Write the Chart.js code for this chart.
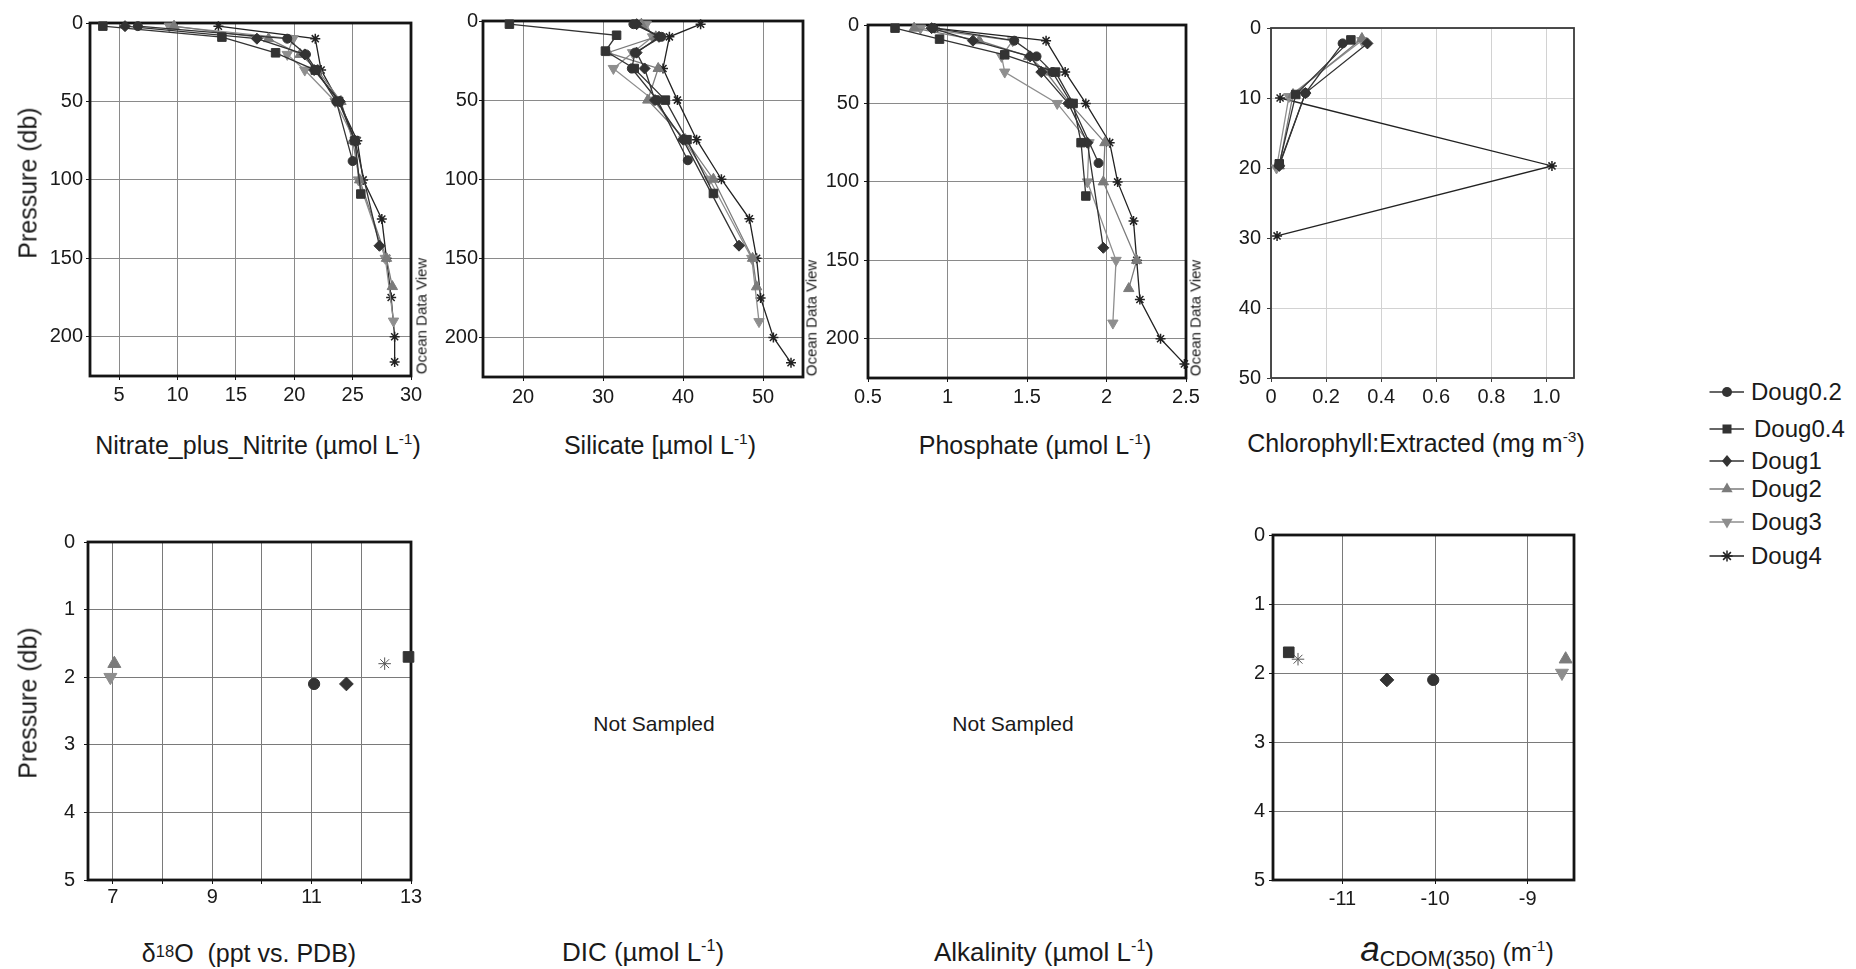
<!DOCTYPE html>
<html>
<head>
<meta charset="utf-8">
<script src="https://cdn.jsdelivr.net/npm/chart.js@4.4.0/dist/chart.umd.min.js"></script>
<style>
html,body{margin:0;padding:0;background:#fff;}
body{width:1856px;height:969px;position:relative;overflow:hidden;font-family:"Liberation Sans",Arial,Helvetica,sans-serif;color:#1a1a1a;}
canvas{position:absolute;}
.lbl{position:absolute;white-space:nowrap;line-height:1;transform:translate(-50%,-50%);}
.rot{transform:translate(-50%,-50%) rotate(-90deg);}
.lbl sup{font-size:0.62em;vertical-align:0.6em;line-height:0;}
.lbl sub{font-size:0.84em;vertical-align:-0.25em;line-height:0;}
.narrow{font-family:"Liberation Sans Narrow","Arial Narrow","Liberation Sans",Arial,sans-serif;}
.leg{position:absolute;height:24px;line-height:24px;font-size:24px;white-space:nowrap;}
.leg svg{position:absolute;left:0;top:2px;}
.leg span{position:absolute;left:44px;top:0;}
</style>
</head>
<body>
<script>
// ---------------- DATA ----------------
const stations = ['Doug0.2', 'Doug0.4', 'Doug1', 'Doug2', 'Doug3', 'Doug4'];

// bottle depths of each profile (db)
const depthDoug02 = [2, 10, 20, 30, 50, 88];
const depthDoug04 = [2, 9, 19, 30, 50, 75, 109];
const depthDoug1  = [2, 10, 20, 30, 50, 75, 142];
const depthDoug2  = [2, 10, 20, 30, 50, 75, 100, 150, 168];
const depthDoug3  = [2, 10, 20, 30, 50, 75, 100, 150, 190];
const depthDoug4  = [2, 10, 30, 50, 75, 100, 125, 150, 175, 200, 216];

// Nitrate_plus_Nitrite (umol/L)
const nitrateDoug02 = [6.6, 19.4, 21.0, 21.9, 23.6, 25.0];
const nitrateDoug04 = [3.6, 13.8, 18.4, 21.8, 23.8, 25.2, 25.7];
const nitrateDoug1  = [5.5, 16.8, 20.9, 21.7, 23.9, 25.2, 27.3];
const nitrateDoug2  = [9.7, 17.8, 20.5, 22.0, 24.0, 25.0, 25.6, 27.9, 28.4];
const nitrateDoug3  = [9.3, 19.9, 19.4, 20.9, 23.5, 25.2, 25.5, 27.8, 28.5];
const nitrateDoug4  = [13.5, 21.8, 22.3, 23.8, 25.4, 25.9, 27.5, 27.9, 28.3, 28.6, 28.6];

// Silicate (umol/L)
const silicateDoug02 = [33.8, 37.3, 34.0, 33.6, 36.8, 40.6];
const silicateDoug04 = [18.3, 31.7, 30.3, 33.9, 37.8, 40.5, 43.8];
const silicateDoug1  = [34.2, 37.0, 34.2, 35.2, 36.5, 40.0, 47.0];
const silicateDoug2  = [34.8, 36.6, 30.6, 36.9, 35.6, 40.3, 43.8, 48.7, 49.2];
const silicateDoug3  = [35.4, 36.2, 33.7, 31.3, 36.3, 40.1, 43.3, 48.6, 49.5];
const silicateDoug4  = [42.2, 38.3, 37.5, 39.3, 41.7, 44.8, 48.3, 49.2, 49.7, 51.3, 53.5];

// Phosphate (umol/L)
const phosphateDoug02 = [0.91, 1.42, 1.56, 1.66, 1.78, 1.95];
const phosphateDoug04 = [0.67, 0.95, 1.36, 1.68, 1.79, 1.84, 1.87];
const phosphateDoug1  = [0.90, 1.16, 1.52, 1.59, 1.76, 1.88, 1.98];
const phosphateDoug2  = [0.79, 1.20, 1.51, 1.62, 1.77, 1.99, 1.98, 2.19, 2.14];
const phosphateDoug3  = [0.83, 1.41, 1.34, 1.36, 1.69, 1.89, 1.88, 2.06, 2.04];
const phosphateDoug4  = [0.92, 1.62, 1.74, 1.87, 2.02, 2.07, 2.17, 2.19, 2.21, 2.34, 2.49];

// Chlorophyll:Extracted (mg/m3) and its sample depths
const chlDepthDoug02 = [2.2, 9.3, 19.5];
const chlDepthDoug04 = [1.7, 9.5, 19.4];
const chlDepthDoug1  = [2.2, 9.3, 19.7];
const chlDepthDoug2  = [1.5, 9.5, 19.7];
const chlDepthDoug3  = [1.8, 9.8, 20.0];
const chlDepthDoug4  = [10.0, 19.7, 29.7];
const chlDoug02 = [0.26, 0.125, 0.03];
const chlDoug04 = [0.29, 0.09, 0.03];
const chlDoug1  = [0.35, 0.125, 0.03];
const chlDoug2  = [0.33, 0.08, 0.03];
const chlDoug3  = [0.33, 0.065, 0.02];
const chlDoug4  = [0.033, 1.02, 0.022];

// surface samples (one per station, order = stations)
const surfaceDepths = [2.1, 1.7, 2.1, 1.8, 2.0, 1.8];
const d18oValues = [11.05, 12.95, 11.7, 7.03, 6.95, 12.47];
const cdomValues = [-10.02, -11.58, -10.52, -8.59, -8.63, -11.48];

// tick values / labels
const profileDepthTicks = [0, 50, 100, 150, 200];
const nitrateTicks = [5, 10, 15, 20, 25, 30];
const silicateTicks = [20, 30, 40, 50];
const phosphateTicks = [0.5, 1, 1.5, 2, 2.5];
const phosphateTickLabels = ['0.5', '1', '1.5', '2', '2.5'];
const chlTicks = [0, 0.2, 0.4, 0.6, 0.8, 1.0];
const chlTickLabels = ['0', '0.2', '0.4', '0.6', '0.8', '1.0'];
const chlDepthTicks = [0, 10, 20, 30, 40, 50];
const surfaceDepthTicks = [0, 1, 2, 3, 4, 5];
const d18oTicks = [7, 8, 9, 10, 11, 12, 13];
const d18oTickLabels = ['7', '', '9', '', '11', '', '13'];
const cdomTicks = [-11, -10, -9];
const cdomTickLabels = ['-11', '-10', '-9'];

// ---------------- STYLE ----------------
const stationStyle = [
  {color: '#333333', pointStyle: 'circle',  radius: 4.5, rotation: 0},
  {color: '#333333', pointStyle: 'rect',    radius: 6,   rotation: 0},
  {color: '#333333', pointStyle: 'rectRot', radius: 5.5, rotation: 0},
  {color: '#7b7b7b', pointStyle: 'triangle',radius: 6,   rotation: 0},
  {color: '#8e8e8e', pointStyle: 'triangle',radius: 6,   rotation: 180},
  {color: '#222222', pointStyle: 'star',    radius: 5,   rotation: 0}
];

Chart.defaults.font.family = '"Liberation Sans", Arial, Helvetica, sans-serif';
Chart.defaults.color = '#1a1a1a';

function series(depths, values) {
  return depths.map((d, i) => ({x: values[i], y: d}));
}

function makeDatasets(list, showLine, scale) {
  const k = scale || 1;
  return list.map((data, i) => {
    const st = stationStyle[i];
    const isStar = st.pointStyle === 'star';
    const col = (!showLine && isStar) ? '#555555' : st.color;
    return {
      label: stations[i],
      data: data,
      showLine: showLine,
      clip: false,
      borderColor: col,
      backgroundColor: col,
      borderWidth: 1.3,
      pointStyle: st.pointStyle,
      pointRadius: st.radius * k,
      pointRotation: st.rotation,
      pointBorderColor: col,
      pointBackgroundColor: col,
      pointBorderWidth: isStar ? (showLine ? 1.5 : 1) : 1,
      pointHoverRadius: st.radius * k
    };
  });
}

const framePlugin = {
  id: 'frame',
  beforeDatasetsDraw(chart, args, opts) {
    const a = chart.chartArea, ctx = chart.ctx;
    ctx.save();
    ctx.strokeStyle = opts.color || '#111';
    ctx.lineWidth = opts.width || 2.5;
    ctx.strokeRect(a.left, a.top, a.right - a.left, a.bottom - a.top);
    ctx.restore();
  }
};

function makePanel(p) {
  const W = p.R - p.L + p.padL + p.padR;
  const H = p.B - p.T + p.padT + p.padB;
  const c = document.createElement('canvas');
  c.width = W; c.height = H;
  c.style.left = (p.L - p.padL) + 'px';
  c.style.top = (p.T - p.padT) + 'px';
  c.style.width = W + 'px';
  c.style.height = H + 'px';
  document.body.appendChild(c);
  new Chart(c, {
    type: 'scatter',
    data: {datasets: p.datasets},
    options: {
      responsive: false,
      animation: false,
      devicePixelRatio: 1,
      events: [],
      layout: {padding: {top: p.padT, right: p.padR, left: 0, bottom: 0}},
      plugins: {
        legend: {display: false},
        tooltip: {enabled: false},
        frame: {width: p.frameWidth, color: p.frameColor}
      },
      scales: {
        x: {
          type: 'linear', position: 'bottom', min: p.xmin, max: p.xmax,
          afterBuildTicks: s => { s.ticks = p.xTicks.map(v => ({value: v})); },
          afterFit: s => { s.height = p.padB; },
          ticks: {
            autoSkip: false, maxRotation: 0, minRotation: 0, padding: p.xPad,
            font: {size: p.tickSize}, color: '#1a1a1a',
            callback: (v, i) => p.xLabels ? p.xLabels[i] : String(p.xTicks[i])
          },
          grid: {color: p.gridColor, lineWidth: 1, tickLength: 4, tickColor: p.frameColor},
          border: {display: false}
        },
        y: {
          type: 'linear', position: 'left', reverse: true, min: p.ymin, max: p.ymax,
          afterBuildTicks: s => { s.ticks = p.yTicks.map(v => ({value: v})); },
          afterFit: s => { s.width = p.padL; },
          ticks: {
            autoSkip: false, padding: p.yPad,
            font: {size: p.tickSize}, color: '#1a1a1a',
            callback: (v, i) => String(p.yTicks[i])
          },
          grid: {color: p.gridColor, lineWidth: 1, tickLength: 4, tickColor: p.frameColor},
          border: {display: false}
        }
      }
    },
    plugins: [framePlugin]
  });
}

function addLabel(html, x, y, size, cls) {
  const d = document.createElement('div');
  d.className = 'lbl' + (cls ? ' ' + cls : '');
  d.style.left = x + 'px';
  d.style.top = y + 'px';
  d.style.fontSize = size + 'px';
  d.innerHTML = html;
  document.body.appendChild(d);
}

// ---------------- PANELS ----------------
makePanel({
  L: 90, R: 411, T: 23, B: 376, padL: 62, padR: 30, padT: 16, padB: 42,
  xmin: 2.5, xmax: 30, ymin: 0, ymax: 225,
  xTicks: nitrateTicks, yTicks: profileDepthTicks,
  xPad: 3, yPad: 3, tickSize: 20,
  gridColor: '#8a8a8a', frameColor: '#141414', frameWidth: 2.8,
  datasets: makeDatasets([
    series(depthDoug02, nitrateDoug02), series(depthDoug04, nitrateDoug04),
    series(depthDoug1, nitrateDoug1), series(depthDoug2, nitrateDoug2),
    series(depthDoug3, nitrateDoug3), series(depthDoug4, nitrateDoug4)], true)
});

makePanel({
  L: 483, R: 803, T: 21, B: 377, padL: 62, padR: 30, padT: 16, padB: 42,
  xmin: 15, xmax: 55, ymin: 0, ymax: 225,
  xTicks: silicateTicks, yTicks: profileDepthTicks,
  xPad: 4, yPad: 1, tickSize: 20,
  gridColor: '#8a8a8a', frameColor: '#141414', frameWidth: 2.8,
  datasets: makeDatasets([
    series(depthDoug02, silicateDoug02), series(depthDoug04, silicateDoug04),
    series(depthDoug1, silicateDoug1), series(depthDoug2, silicateDoug2),
    series(depthDoug3, silicateDoug3), series(depthDoug4, silicateDoug4)], true)
});

makePanel({
  L: 868, R: 1186, T: 24, B: 378, padL: 62, padR: 30, padT: 16, padB: 42,
  xmin: 0.5, xmax: 2.5, ymin: 0, ymax: 225,
  xTicks: phosphateTicks, xLabels: phosphateTickLabels, yTicks: profileDepthTicks,
  xPad: 3, yPad: 5, tickSize: 20,
  gridColor: '#8a8a8a', frameColor: '#141414', frameWidth: 2.8,
  datasets: makeDatasets([
    series(depthDoug02, phosphateDoug02), series(depthDoug04, phosphateDoug04),
    series(depthDoug1, phosphateDoug1), series(depthDoug2, phosphateDoug2),
    series(depthDoug3, phosphateDoug3), series(depthDoug4, phosphateDoug4)], true)
});

makePanel({
  L: 1271, R: 1574, T: 26, B: 378, padL: 55, padR: 30, padT: 16, padB: 42,
  xmin: 0, xmax: 1.1, ymin: 0, ymax: 50,
  xTicks: chlTicks, xLabels: chlTickLabels, yTicks: chlDepthTicks,
  xPad: 3, yPad: 6, tickSize: 20,
  gridColor: '#d2d2d2', frameColor: '#3a3a3a', frameWidth: 1.8,
  datasets: makeDatasets([
    series(chlDepthDoug02, chlDoug02), series(chlDepthDoug04, chlDoug04),
    series(chlDepthDoug1, chlDoug1), series(chlDepthDoug2, chlDoug2),
    series(chlDepthDoug3, chlDoug3), series(chlDepthDoug4, chlDoug4)], true)
});

makePanel({
  L: 88, R: 411, T: 537, B: 880, padL: 50, padR: 30, padT: 16, padB: 40,
  xmin: 6.5, xmax: 13, ymin: 0, ymax: 5,
  xTicks: d18oTicks, xLabels: d18oTickLabels, yTicks: surfaceDepthTicks,
  xPad: 1, yPad: 9, tickSize: 20,
  gridColor: '#7a7a7a', frameColor: '#141414', frameWidth: 2.8,
  datasets: makeDatasets(stations.map((s, i) => [{x: d18oValues[i], y: surfaceDepths[i]}]), false, 1.25)
});

makePanel({
  L: 1273, R: 1574, T: 535, B: 880, padL: 50, padR: 30, padT: 16, padB: 40,
  xmin: -11.75, xmax: -8.5, ymin: 0, ymax: 5,
  xTicks: cdomTicks, xLabels: cdomTickLabels, yTicks: surfaceDepthTicks,
  xPad: 3, yPad: 4, tickSize: 20,
  gridColor: '#7a7a7a', frameColor: '#141414', frameWidth: 2.8,
  datasets: makeDatasets(stations.map((s, i) => [{x: cdomValues[i], y: surfaceDepths[i]}]), false, 1.25)
});

// ---------------- TEXT ----------------
addLabel('Pressure (db)', 28, 183, 25, 'rot');
addLabel('Pressure (db)', 28, 703, 25, 'rot');

addLabel('Ocean Data View', 421, 316, 15, 'rot');
addLabel('Ocean Data View', 811, 318, 15, 'rot');
addLabel('Ocean Data View', 1195, 318, 15, 'rot');

addLabel('Nitrate_plus_Nitrite (µmol L<sup>-1</sup>)', 258, 445, 25);
addLabel('Silicate [µmol L<sup>-1</sup>)', 660, 445, 25);
addLabel('Phosphate (µmol L<sup>-1</sup>)', 1035, 445, 25);
addLabel('Chlorophyll:Extracted (mg m<sup>-3</sup>)', 1416, 443, 25);

addLabel('&delta;<span style="font-size:0.66em;vertical-align:0.28em;">18</span>O&nbsp;&nbsp;(ppt vs. PDB)', 249, 953, 25);
addLabel('DIC (µmol L<sup>-1</sup>)', 643, 952, 26, 'narrow');
addLabel('Alkalinity (µmol L<sup>-1</sup>)', 1044, 952, 26, 'narrow');
addLabel('<i style="font-size:1.4em;">a</i><sub style="font-size:0.86em;">CDOM(350)</sub> (m<sup>-1</sup>)', 1457, 948, 25);

addLabel('Not Sampled', 654, 723, 21, 'narrow');
addLabel('Not Sampled', 1013, 723, 21, 'narrow');

// ---------------- LEGEND ----------------
const legendRowY = [392, 429, 461, 489, 522, 556];
function markerSVG(st) {
  const cx = 20, cy = 10, c = st.color;
  let m = '';
  if (st.pointStyle === 'circle') {
    m = `<circle cx="${cx}" cy="${cy}" r="5" fill="${c}"/>`;
  } else if (st.pointStyle === 'rect') {
    m = `<rect x="${cx - 4.5}" y="${cy - 4.5}" width="9" height="9" fill="${c}"/>`;
  } else if (st.pointStyle === 'rectRot') {
    m = `<polygon points="${cx},${cy - 6} ${cx + 5},${cy} ${cx},${cy + 6} ${cx - 5},${cy}" fill="${c}"/>`;
  } else if (st.pointStyle === 'triangle') {
    const r = 6.5, s = r * 0.866, h = r * 0.5;
    if (st.rotation === 180) {
      m = `<polygon points="${cx},${cy + r} ${cx + s},${cy - h} ${cx - s},${cy - h}" fill="${c}"/>`;
    } else {
      m = `<polygon points="${cx},${cy - r} ${cx + s},${cy + h} ${cx - s},${cy + h}" fill="${c}"/>`;
    }
  } else {
    const r = 5.5, q = r * 0.707;
    m = `<g stroke="${c}" stroke-width="1.5"><line x1="${cx - r}" y1="${cy}" x2="${cx + r}" y2="${cy}"/>` +
        `<line x1="${cx}" y1="${cy - r}" x2="${cx}" y2="${cy + r}"/>` +
        `<line x1="${cx - q}" y1="${cy - q}" x2="${cx + q}" y2="${cy + q}"/>` +
        `<line x1="${cx - q}" y1="${cy + q}" x2="${cx + q}" y2="${cy - q}"/></g>`;
  }
  return `<svg width="40" height="20" viewBox="0 0 40 20"><line x1="2.5" y1="${cy}" x2="37" y2="${cy}" stroke="${c}" stroke-width="1.5"/>${m}</svg>`;
}
stations.forEach((name, i) => {
  const d = document.createElement('div');
  d.className = 'leg';
  d.style.left = '1707px';
  d.style.top = (legendRowY[i] - 12) + 'px';
  d.innerHTML = markerSVG(stationStyle[i]) + '<span' + (i === 1 ? ' style="left:47px"' : '') + '>' + name + '</span>';
  document.body.appendChild(d);
});
</script>
</body>
</html>
